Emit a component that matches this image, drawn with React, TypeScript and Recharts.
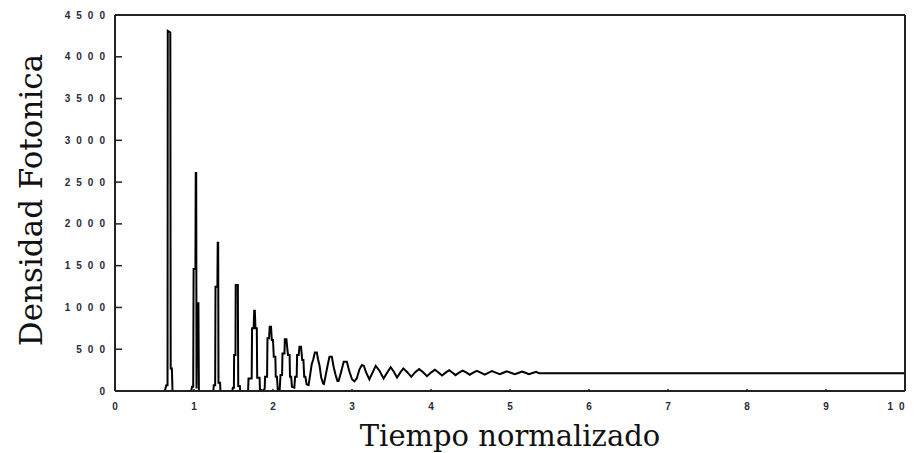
import { LineChart, Line, XAxis, YAxis } from 'recharts'

// tiempo normalizado / densidad fotonica
const TIME = [
  0, 0.63, 0.65, 0.665, 0.668, 0.7, 0.705, 0.72, 0.728,
  0.965, 0.975, 0.99, 0.995, 1.018, 1.022, 1.028, 1.032, 1.04, 1.056, 1.062,
  1.245, 1.25, 1.268, 1.272, 1.296, 1.3, 1.306, 1.31, 1.33, 1.335,
  1.485, 1.492, 1.505, 1.508, 1.525, 1.528, 1.555, 1.56, 1.58, 1.585,
  1.685, 1.69, 1.73, 1.735, 1.755, 1.762, 1.77, 1.778, 1.795, 1.8, 1.83, 1.835,
  1.88, 1.895, 1.9, 1.925, 1.93, 1.95, 1.958, 1.975, 1.985, 2.0, 2.01, 2.03, 2.035, 2.05, 2.06,
  2.085, 2.095, 2.115, 2.12, 2.145, 2.15, 2.17, 2.18, 2.19, 2.21, 2.215, 2.23, 2.24,
  2.27, 2.28, 2.3, 2.305, 2.325, 2.335, 2.355, 2.37, 2.385, 2.395, 2.41, 2.425,
  2.45, 2.465, 2.49, 2.51, 2.53, 2.555, 2.57, 2.59, 2.61, 2.635,
  2.645, 2.665, 2.69, 2.715, 2.745, 2.765, 2.79, 2.815,
  2.83, 2.86, 2.895, 2.935, 2.965, 3.0, 3.03,
  3.06, 3.095, 3.125, 3.15, 3.18, 3.22,
  3.26, 3.3, 3.35, 3.4, 3.445, 3.49, 3.53, 3.57, 3.61, 3.65, 3.7, 3.75,
  3.8, 3.85, 3.9, 3.95, 4.0, 4.05, 4.095, 4.14, 4.185, 4.23, 4.27, 4.31,
  4.355, 4.4, 4.445, 4.49, 4.535, 4.58, 4.63, 4.68, 4.725, 4.77, 4.82, 4.87,
  4.915, 4.96, 5.01, 5.06, 5.105, 5.15, 5.195, 5.24, 5.285, 5.33, 5.37, 10,
]
const DENSITY = [
  0, 0, 70, 70, 4310, 4290, 270, 270, 0,
  0, 50, 50, 1460, 1460, 2610, 2610, 30, 1050, 1050, 0,
  0, 70, 70, 1248, 1248, 1774, 1774, 100, 100, 0,
  0, 40, 40, 430, 430, 1270, 1270, 60, 60, 0,
  0, 150, 150, 750, 750, 960, 960, 750, 750, 160, 160, 20,
  0, 30, 170, 170, 630, 630, 770, 770, 610, 610, 410, 410, 170, 170, 20,
  20, 190, 190, 450, 450, 618, 618, 520, 430, 430, 170, 170, 50,
  40, 170, 170, 430, 430, 530, 530, 370, 370, 170, 170, 80,
  70, 160, 320, 380, 460, 460, 380, 300, 160, 90,
  84, 180, 300, 410, 410, 300, 200, 120,
  120, 220, 350, 350, 240, 140, 115,
  150, 260, 310, 300, 220, 140,
  220, 300, 240, 150, 220, 285, 230, 160, 220, 270, 225, 170,
  225, 262, 225, 178, 220, 255, 222, 185, 220, 250, 222, 190,
  220, 245, 222, 195, 220, 240, 220, 197, 218, 238, 220, 200,
  218, 235, 218, 200, 216, 233, 218, 200, 215, 230, 212, 212,
]
const X_TICKS = [0, 1, 2, 3, 4, 5, 6, 7, 8, 9, 10]
const Y_TICKS = [0, 500, 1000, 1500, 2000, 2500, 3000, 3500, 4000, 4500]

const data = TIME.map((t, i) => ({ t, d: DENSITY[i] }))

const tickFont = {
  fontFamily: '"Liberation Sans", Arial, sans-serif',
  fontSize: 10,
  fontWeight: 700,
  letterSpacing: 6,
  fill: '#2a2a3a',
}

function LeftTick({ x, y, payload }: any) {
  return (
    <g>
      <line x1={x} x2={x + 7} y1={y} y2={y} stroke="#222" strokeWidth={1.5} />
      <text x={x - 4} y={y} dy={3.5} textAnchor="end" style={tickFont}>{payload.value}</text>
    </g>
  )
}

function RightTick({ x, y }: any) {
  return <line x1={x} x2={x - 3} y1={y} y2={y} stroke="#222" strokeWidth={1.5} />
}

function BottomTick({ x, y, payload }: any) {
  // last label sits at the window edge, pull it in a little
  const shift = payload.value >= 10 ? -6 : 3
  return (
    <g>
      <line x1={x} x2={x} y1={y} y2={y - 2} stroke="#222" strokeWidth={1.5} />
      <text x={x + shift} y={y} dy={19} textAnchor="middle" style={tickFont}>{payload.value}</text>
    </g>
  )
}

const titleStyle = { fontFamily: '"DejaVu Serif", serif', fill: '#111' }

export default function App() {
  return (
    <div style={{ position: 'absolute', left: 0, top: 0, width: 914, height: 453, background: '#fff' }}>
      <LineChart width={914} height={453} data={data} margin={{ top: 14, right: 8, bottom: 32, left: 55 }}>
        <XAxis
          dataKey="t"
          type="number"
          domain={[0, 10]}
          ticks={X_TICKS}
          height={30}
          tickSize={0}
          tickMargin={0}
          tickLine={false}
          axisLine={{ stroke: '#222', strokeWidth: 2 }}
          tick={<BottomTick />}
          interval={0}
        />
        <XAxis
          xAxisId="top"
          orientation="top"
          type="number"
          domain={[0, 10]}
          height={1}
          tickLine={false}
          axisLine={{ stroke: '#222', strokeWidth: 2 }}
          tick={false}
        />
        <YAxis
          type="number"
          domain={[0, 4500]}
          ticks={Y_TICKS}
          width={60}
          tickSize={0}
          tickMargin={0}
          tickLine={false}
          axisLine={{ stroke: '#222', strokeWidth: 2 }}
          tick={<LeftTick />}
          interval={0}
        />
        <YAxis
          yAxisId="right"
          orientation="right"
          type="number"
          domain={[0, 4500]}
          ticks={Y_TICKS}
          width={1}
          tickSize={0}
          tickMargin={0}
          tickLine={false}
          axisLine={{ stroke: '#222', strokeWidth: 2 }}
          tick={<RightTick />}
          interval={0}
        />
        <Line
          type="linear"
          dataKey="d"
          stroke="#000"
          strokeWidth={2}
          dot={false}
          isAnimationActive={false}
        />
        <text x={510} y={446} textAnchor="middle" style={{ ...titleStyle, fontSize: 29 }}>Tiempo normalizado</text>
        <text x={42} y={200} transform="rotate(-90 42 200)" textAnchor="middle" style={{ ...titleStyle, fontSize: 31 }}>
          Densidad Fotonica
        </text>
      </LineChart>
    </div>
  )
}
